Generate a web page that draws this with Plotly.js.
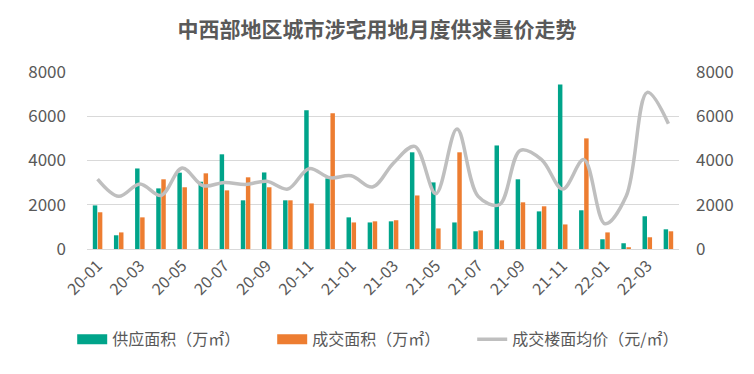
<!DOCTYPE html>
<html><head><meta charset="utf-8">
<script src="https://cdn.plot.ly/plotly-3.0.1.min.js"></script>
<style>html,body{margin:0;padding:0;background:#fff}#c{width:754px;height:374px}</style>
</head><body><div id="c"></div>
<script>
const months = ["20-01","20-02","20-03","20-04","20-05","20-06","20-07","20-08","20-09","20-10","20-11","20-12",
"21-01","21-02","21-03","21-04","21-05","21-06","21-07","21-08","21-09","21-10","21-11","21-12",
"22-01","22-02","22-03","22-04"];
const supply = [1970,620,3640,2740,3450,3040,4280,2200,3460,2200,6270,3190,
1430,1200,1250,4370,3010,1200,800,4680,3150,1700,7440,1750,440,260,1480,890];
const deal = [1660,750,1430,3150,2790,3420,2650,3240,2790,2200,2060,6130,
1200,1250,1300,2420,930,4370,840,390,2110,1930,1110,5000,750,80,530,800];
const price = [3160,2380,2940,2420,3660,2860,3010,2920,3060,2710,3630,3220,
3310,2800,3890,4640,2500,5420,2380,2000,4460,4040,2710,4040,1140,2380,7080,5660];
const tickLabels = ["20-01","20-03","20-05","20-07","20-09","20-11","21-01","21-03","21-05","21-07","21-09","21-11","22-01","22-03"];
const names = ["供应面积（万㎡）","成交面积（万㎡）","成交楼面均价（元/㎡）"];
const colors = ["#00A48A","#ED7D31","#BFBFBF"];

const font = "'Noto Sans CJK SC', 'Noto Sans', sans-serif";
const data = [
  {type:"bar", name:names[0], x:months, y:supply, marker:{color:colors[0]}, showlegend:false},
  {type:"bar", name:names[1], x:months, y:deal, marker:{color:colors[1]}, showlegend:false},
  {type:"scatter", mode:"lines", name:names[2], x:months, y:price, yaxis:"y2",
   line:{color:colors[2], width:3.5, shape:"spline", smoothing:1}, showlegend:false},
  // legend entries (wide swatches like the original)
  {type:"scatter", mode:"lines", name:names[0], x:[months[0]], y:[null], line:{color:colors[0], width:10}},
  {type:"scatter", mode:"lines", name:names[1], x:[months[0]], y:[null], line:{color:colors[1], width:10}},
  {type:"scatter", mode:"lines", name:names[2], x:[months[0]], y:[null], line:{color:colors[2], width:3.5}}
];
const layout = {
  width:754, height:374,
  margin:{l:87, r:75, t:72, b:125, autoexpand:false},
  paper_bgcolor:"#fff", plot_bgcolor:"#fff",
  font:{family:font, color:"#595959"},
  title:{text:"<b>中西部地区城市涉宅用地月度供求量价走势</b>", x:0.5, xanchor:"center", y:0.92, yanchor:"middle",
         font:{size:21, color:"#595959", family:font}},
  barmode:"group", bargap:0.52, bargroupgap:0.12,
  xaxis:{type:"category", tickmode:"array", tickvals:tickLabels, ticktext:tickLabels, tickangle:-45,
         tickfont:{size:16, color:"#595959"}, showgrid:false, showline:true, linecolor:"#D9D9D9", linewidth:1,
         ticks:"", fixedrange:true},
  yaxis:{range:[0,8000], tickvals:[0,2000,4000,6000,8000], showgrid:true, gridcolor:"#D9D9D9", zeroline:false,
         tickfont:{size:17, color:"#595959"}, ticks:"", ticklabelstandoff:20, automargin:false},
  yaxis2:{range:[0,8000], tickvals:[0,2000,4000,6000,8000], overlaying:"y", side:"right", showgrid:false, zeroline:false,
         tickfont:{size:17, color:"#595959"}, ticks:"", ticklabelstandoff:16, automargin:false},
  showlegend:true,
  legend:{orientation:"h", x:-0.025, xanchor:"left", y:-0.51, yanchor:"middle", font:{size:16, color:"#595959"},
          entrywidth:155, entrywidthmode:"pixels", traceorder:"normal"}
};
Plotly.newPlot("c", data, layout, {displayModeBar:false, staticPlot:true});
</script></body></html>
